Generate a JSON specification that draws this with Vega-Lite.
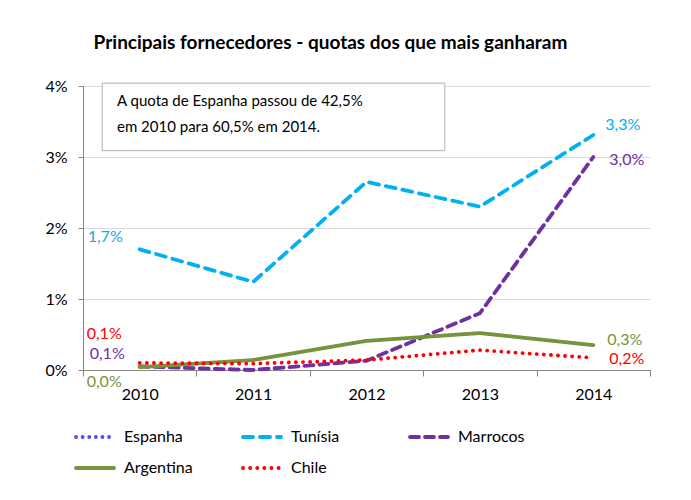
{
  "$schema": "https://vega.github.io/schema/vega-lite/v6.json",
  "width": 567,
  "height": 284,
  "autosize": "none",
  "padding": {"left": 83, "top": 86, "right": 41, "bottom": 130},
  "background": "white",
  "config": {
    "font": "Lato",
    "view": {"stroke": null},
    "axis": {
      "labelFont": "Lato",
      "labelFontSize": 16,
      "labelColor": "black",
      "domainColor": "#868686",
      "tickColor": "#868686",
      "gridColor": "#d9d9d9",
      "title": null
    }
  },
  "title": {
    "text": "Principais fornecedores - quotas dos que mais ganharam",
    "fontSize": 19,
    "fontWeight": "bold",
    "font": "Lato",
    "color": "black",
    "anchor": "middle",
    "dx": -36,
    "offset": 25
  },
  "datasets": {
    "series": [
      {"pais": "Tunísia", "ano": "2010", "quota": 1.70},
      {"pais": "Tunísia", "ano": "2011", "quota": 1.24},
      {"pais": "Tunísia", "ano": "2012", "quota": 2.65},
      {"pais": "Tunísia", "ano": "2013", "quota": 2.30},
      {"pais": "Tunísia", "ano": "2014", "quota": 3.31},
      {"pais": "Marrocos", "ano": "2010", "quota": 0.05},
      {"pais": "Marrocos", "ano": "2011", "quota": 0.0},
      {"pais": "Marrocos", "ano": "2012", "quota": 0.13},
      {"pais": "Marrocos", "ano": "2013", "quota": 0.80},
      {"pais": "Marrocos", "ano": "2014", "quota": 3.0},
      {"pais": "Argentina", "ano": "2010", "quota": 0.04},
      {"pais": "Argentina", "ano": "2011", "quota": 0.14},
      {"pais": "Argentina", "ano": "2012", "quota": 0.41},
      {"pais": "Argentina", "ano": "2013", "quota": 0.52},
      {"pais": "Argentina", "ano": "2014", "quota": 0.35},
      {"pais": "Chile", "ano": "2010", "quota": 0.10},
      {"pais": "Chile", "ano": "2011", "quota": 0.09},
      {"pais": "Chile", "ano": "2012", "quota": 0.14},
      {"pais": "Chile", "ano": "2013", "quota": 0.28},
      {"pais": "Chile", "ano": "2014", "quota": 0.17}
    ],
    "rotulos": [
      {"pais": "Tunísia", "ano": "2010", "quota": 1.70, "texto": "1,7%"},
      {"pais": "Chile", "ano": "2010", "quota": 0.10, "texto": "0,1%"},
      {"pais": "Marrocos", "ano": "2010", "quota": 0.05, "texto": "0,1%"},
      {"pais": "Argentina", "ano": "2010", "quota": 0.04, "texto": "0,0%"},
      {"pais": "Tunísia", "ano": "2014", "quota": 3.31, "texto": "3,3%"},
      {"pais": "Marrocos", "ano": "2014", "quota": 3.0, "texto": "3,0%"},
      {"pais": "Argentina", "ano": "2014", "quota": 0.35, "texto": "0,3%"},
      {"pais": "Chile", "ano": "2014", "quota": 0.17, "texto": "0,2%"}
    ],
    "nota": [
      {"x1": 2009.67, "x2": 2012.69, "y1": 4.04, "y2": 3.09, "xt": 2009.8, "yt": 3.89}
    ]
  },
  "layer": [
    {
      "layer": [
        {
          "data": {"name": "series"},
          "mark": {"type": "line", "strokeWidth": 3.8, "strokeCap": "round", "strokeJoin": "round"},
          "encoding": {
            "x": {
              "field": "ano",
              "type": "ordinal",
              "bandPosition": 0.5,
              "scale": {"type": "band", "paddingInner": 0, "paddingOuter": 0},
              "axis": {"tickBand": "extent", "labelAngle": 0, "tickSize": 6, "labelPadding": 10, "grid": false}
            },
            "y": {
              "field": "quota",
              "type": "quantitative",
              "scale": {"domain": [0, 4], "nice": false},
              "axis": {"values": [0, 1, 2, 3, 4], "labelExpr": "datum.value + '%'", "tickSize": 5, "labelPadding": 11, "grid": true}
            },
            "color": {
              "field": "pais",
              "type": "nominal",
              "scale": {
                "domain": ["Espanha", "Tunísia", "Marrocos", "Argentina", "Chile"],
                "range": ["#4f4ff5", "#00b0f0", "#7030a0", "#77933c", "#ff0000"]
              },
              "legend": {
                "title": null,
                "orient": "none",
                "legendX": -9,
                "legendY": 330,
                "direction": "horizontal",
                "columns": 3,
                "gridAlign": "all",
                "symbolType": "stroke",
                "symbolSize": 1444,
                "symbolStrokeWidth": 3.8,
                "labelFontSize": 16,
                "labelFont": "Lato",
                "labelColor": "black",
                "labelOffset": 8,
                "columnPadding": 42,
                "rowPadding": 2,
                "labelLimit": 200,
                "encode": {"symbols": {"update": {"strokeCap": {"value": "round"}}}}
              }
            },
            "strokeDash": {
              "field": "pais",
              "type": "nominal",
              "scale": {
                "domain": ["Espanha", "Tunísia", "Marrocos", "Argentina", "Chile"],
                "range": [[0.1, 6.5], [10, 7], [9, 6], [1, 0], [0.1, 7]]
              },
              "legend": null
            }
          }
        },
        {
          "data": {"name": "rotulos"},
          "transform": [{"filter": "datum.ano == '2010' && datum.pais == 'Tunísia'"}],
          "mark": {"type": "text", "align": "left", "baseline": "middle", "dx": -52, "dy": -12, "fontSize": 16},
          "encoding": {
            "x": {"field": "ano", "type": "ordinal", "bandPosition": 0.5},
            "y": {"field": "quota", "type": "quantitative"},
            "text": {"field": "texto"},
            "color": {"field": "pais", "type": "nominal", "legend": null}
          }
        },
        {
          "data": {"name": "rotulos"},
          "transform": [{"filter": "datum.ano == '2010' && datum.pais == 'Chile'"}],
          "mark": {"type": "text", "align": "left", "baseline": "middle", "dx": -53, "dy": -29, "fontSize": 16},
          "encoding": {
            "x": {"field": "ano", "type": "ordinal", "bandPosition": 0.5},
            "y": {"field": "quota", "type": "quantitative"},
            "text": {"field": "texto"},
            "color": {"field": "pais", "type": "nominal", "legend": null}
          }
        },
        {
          "data": {"name": "rotulos"},
          "transform": [{"filter": "datum.ano == '2010' && datum.pais == 'Marrocos'"}],
          "mark": {"type": "text", "align": "left", "baseline": "middle", "dx": -50, "dy": -12, "fontSize": 16},
          "encoding": {
            "x": {"field": "ano", "type": "ordinal", "bandPosition": 0.5},
            "y": {"field": "quota", "type": "quantitative"},
            "text": {"field": "texto"},
            "color": {"field": "pais", "type": "nominal", "legend": null}
          }
        },
        {
          "data": {"name": "rotulos"},
          "transform": [{"filter": "datum.ano == '2010' && datum.pais == 'Argentina'"}],
          "mark": {"type": "text", "align": "left", "baseline": "middle", "dx": -53, "dy": 15, "fontSize": 16},
          "encoding": {
            "x": {"field": "ano", "type": "ordinal", "bandPosition": 0.5},
            "y": {"field": "quota", "type": "quantitative"},
            "text": {"field": "texto"},
            "color": {"field": "pais", "type": "nominal", "legend": null}
          }
        },
        {
          "data": {"name": "rotulos"},
          "transform": [{"filter": "datum.ano == '2014' && datum.pais == 'Tunísia'"}],
          "mark": {"type": "text", "align": "left", "baseline": "middle", "dx": 12, "dy": -10, "fontSize": 16},
          "encoding": {
            "x": {"field": "ano", "type": "ordinal", "bandPosition": 0.5},
            "y": {"field": "quota", "type": "quantitative"},
            "text": {"field": "texto"},
            "color": {"field": "pais", "type": "nominal", "legend": null}
          }
        },
        {
          "data": {"name": "rotulos"},
          "transform": [{"filter": "datum.ano == '2014' && datum.pais == 'Marrocos'"}],
          "mark": {"type": "text", "align": "left", "baseline": "middle", "dx": 16, "dy": 3, "fontSize": 16},
          "encoding": {
            "x": {"field": "ano", "type": "ordinal", "bandPosition": 0.5},
            "y": {"field": "quota", "type": "quantitative"},
            "text": {"field": "texto"},
            "color": {"field": "pais", "type": "nominal", "legend": null}
          }
        },
        {
          "data": {"name": "rotulos"},
          "transform": [{"filter": "datum.ano == '2014' && datum.pais == 'Argentina'"}],
          "mark": {"type": "text", "align": "left", "baseline": "middle", "dx": 14, "dy": -5, "fontSize": 16},
          "encoding": {
            "x": {"field": "ano", "type": "ordinal", "bandPosition": 0.5},
            "y": {"field": "quota", "type": "quantitative"},
            "text": {"field": "texto"},
            "color": {"field": "pais", "type": "nominal", "legend": null}
          }
        },
        {
          "data": {"name": "rotulos"},
          "transform": [{"filter": "datum.ano == '2014' && datum.pais == 'Chile'"}],
          "mark": {"type": "text", "align": "left", "baseline": "middle", "dx": 16, "dy": 1, "fontSize": 16},
          "encoding": {
            "x": {"field": "ano", "type": "ordinal", "bandPosition": 0.5},
            "y": {"field": "quota", "type": "quantitative"},
            "text": {"field": "texto"},
            "color": {"field": "pais", "type": "nominal", "legend": null}
          }
        }
      ]
    },
    {
      "data": {"name": "nota"},
      "layer": [
        {
          "mark": {"type": "rect", "fill": "white", "stroke": "#bfbfbf", "strokeWidth": 1.2},
          "encoding": {
            "x": {"field": "x1", "type": "quantitative", "scale": {"domain": [2009.5, 2014.5], "nice": false, "zero": false}, "axis": null},
            "x2": {"field": "x2"},
            "y": {"field": "y1", "type": "quantitative"},
            "y2": {"field": "y2"}
          }
        },
        {
          "mark": {
            "type": "text",
            "align": "left",
            "baseline": "top",
            "fontSize": 15,
            "lineHeight": 26,
            "color": "black",
            "text": ["A quota de Espanha passou de 42,5%", "em 2010 para 60,5% em 2014."]
          },
          "encoding": {
            "x": {"field": "xt", "type": "quantitative", "scale": {"domain": [2009.5, 2014.5], "nice": false, "zero": false}, "axis": null},
            "y": {"field": "yt", "type": "quantitative"}
          }
        }
      ]
    }
  ],
  "resolve": {"scale": {"x": "independent"}}
}
